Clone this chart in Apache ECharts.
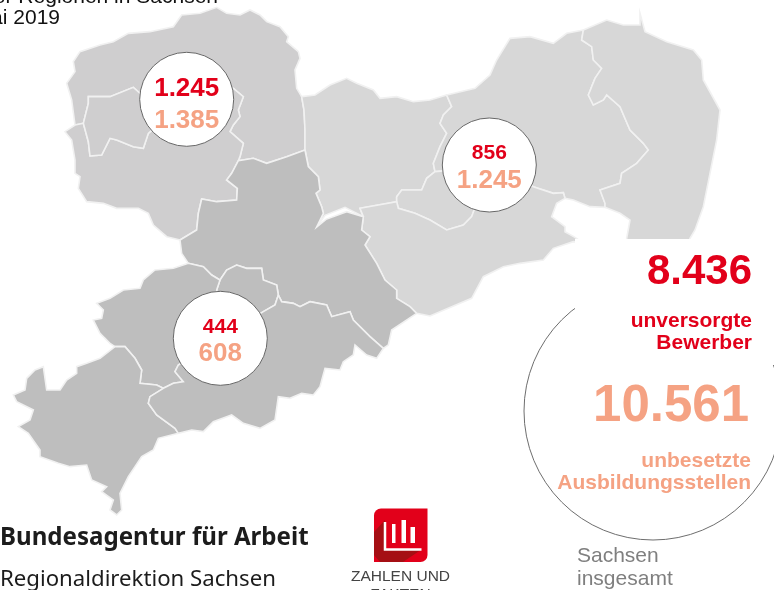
<!DOCTYPE html>
<html><head><meta charset="utf-8">
<style>html,body{margin:0;padding:0;background:#fff;overflow:hidden}#c{width:774px;height:590px}</style>
<script src="https://cdn.jsdelivr.net/npm/echarts@6/dist/echarts.min.js"></script>
</head><body><div id="c"></div>
<script>
// ---- values ----
const districts = ['Leipzig', 'Dresden', 'Chemnitz'];
const bewerber = [1245, 856, 444];
const stellen = [1385, 1245, 608];
const totalBewerber = 8436;
const totalStellen = 10561;
const districtAnchors = [[186.7, 99.3], [489.3, 165], [220.3, 338.3]];

// ---- map geometry ----
const z1 = p => p.map(([x, y]) => [x / 3, y / 3]);
const z2 = p => p.map(([x, y]) => [x / 3 + 290, y / 3]);
const z3 = p => p.map(([x, y]) => [x / 3, y / 3 + 230]);
const rev = p => p.slice().reverse();

const LN = z1([[225,375],[215,300],[200,250],[225,215],[220,185],[240,155],[300,135],[340,125],[385,100],[450,95],[520,80],[545,45],[600,40],[650,22],[680,40],[720,45],[750,30],[780,45],[800,65],[840,80],[865,110],[860,125],[895,155],[900,175],[885,210],[890,265]]);
const LE = z1([[905,290],[912,330],[915,390],[915,450]]);
const LC1 = z1([[860,470],[800,490],[760,475],[715,482]]);
const LC2 = z1([[695,520],[680,540],[712,565],[710,600],[650,605],[605,597],[595,640],[590,690],[540,720]]);
const LS = z1([[500,710],[460,675],[445,640],[415,625],[350,625],[310,610],[260,605],[235,565],[240,530],[225,520],[225,480],[215,420],[195,395]]);
const Rline = z1([[720,470],[730,430],[690,395],[700,375],[720,350],[715,330],[730,290],[700,265],[560,295]]);
const boxTop = z1([[250,370],[265,310],[265,290],[330,290],[400,262],[420,280],[560,295]]);
const boxBottom = z1([[445,400],[430,445],[400,440],[350,420],[330,415],[305,465],[270,468],[265,425],[250,370]]);

const CD1a = z2([[55,500],[85,530],[90,570],[78,580],[95,620],[100,640],[80,681]]);
const NotchUpper = z2([[105,646],[165,622]]);
const NotchLower = z2([[108,658],[170,635]]);
const CDjoin = z2([[220,650]]);
const CD2 = z2([[215,690],[240,710],[225,735],[260,790],[285,840],[320,870]]).concat(z3([[1190,205],[1230,230],[1250,250]]));
const MeTop = z2([[75,285],[120,255],[170,235],[200,250],[250,270],[270,295],[320,290],[370,305],[420,300],[470,285]]);
const MB = z2([[485,320],[460,345],[450,370],[470,400],[450,440],[430,490],[435,515]]);
const MD = z2([[410,535],[395,570],[335,570],[320,590],[320,605]]);
const DS = z2([[325,625],[375,640],[420,660],[470,690],[520,675],[545,650],[600,500]]);
const BaTop = z2([[555,265],[600,225],[620,180],[660,115],[720,110],[790,130],[830,100],[880,90]]);
const BG = z2([[875,120],[905,140],[910,180],[935,205],[915,235],[895,285],[910,315],[940,300],[950,285],[990,320],[1020,390],[1060,430],[1075,450],[1040,490],[995,520],[990,550],[930,570],[945,610],[945,622]]);
const BS = z2([[730,560],[790,580],[820,578],[825,595]]);

const CCtop = z3([[660,150],[680,120],[710,105],[740,115],[785,115],[790,150],[830,165],[835,195]]);
const ES = z3([[845,215],[880,220],[900,230],[930,215],[980,225],[995,260],[1050,245],[1060,270],[1110,320],[1150,355]]);
const ZN = z3([[660,150],[635,135],[610,110],[565,100]]);
const VZ = z3([[375,350],[405,385],[425,420],[420,460],[470,465],[490,475]]);
const ZE = z3([[520,460],[550,455],[525,425],[535,405],[661,325]]);
const VE = z3([[535,610],[525,595],[470,555],[445,520],[450,500],[490,475]]);

const shapes = {
  Nordsachsen: LN.concat(LE, LC1, Rline, rev(boxTop)),
  'Landkreis Leipzig': z1([[715,482]]).concat(LC2, LS, z1([[225,375]]), rev(boxBottom), rev(Rline)),
  'Stadt Leipzig': boxTop.concat(boxBottom),
  Meissen: z2([[35,290]]).concat(MeTop, MB, MD, z2([[210,625]]), CDjoin, rev(NotchUpper), rev(CD1a), rev(LE)),
  Bautzen: z2([[470,285]]).concat(BaTop, BG, z2([[900,620],[850,600],[825,595]]), rev(BS), z2([[600,500]]), rev(MB)),
  'Stadt Dresden': z2([[435,515]]).concat(MD, DS),
  Osterzgebirge: z2([[210,625],[320,605]]).concat(DS, BS, z2([[800,610],[785,650],[825,680],[825,695],[855,712],[880,730],[850,725],[790,745],[760,780],[690,790],[640,800],[580,830],[545,895]]), z3([[1290,258],[1250,250]]), rev(CD2), CDjoin),
  Goerlitz: z2([[880,90],[950,60],[1000,75],[1050,75],[1050,40],[1065,95],[1130,125],[1210,150],[1235,180],[1240,240],[1290,330],[1280,420],[1260,520],[1240,620],[1215,690],[1200,715],[1190,760],[1010,760],[1010,715],[1020,660],[990,640],[945,622]]).concat(rev(BG)),
  Mittelsachsen: z1([[915,450]]).concat(CD1a, NotchLower, CDjoin, CD2, z3([[1175,300],[1165,345],[1150,355]]), rev(ES), z3([[835,195]]), rev(CCtop), ZN.slice(1), z3([[545,70],[540,30]]), rev(LC2), z1([[715,482]]), rev(LC1)),
  'Stadt Chemnitz': CCtop.concat(z3([[825,225],[790,245],[661,325],[650,180]])),
  Zwickau: z3([[565,100],[520,115],[465,120],[430,150],[420,175],[370,180],[330,205],[290,220],[310,240],[305,265],[280,270],[300,310],[330,340],[345,350]]).concat(VZ, ZE, z3([[650,180]]), ZN),
  Vogtland: z3([[345,350],[300,385],[260,400],[230,410],[230,430],[200,450],[180,480],[140,480],[130,410],[105,420],[80,445],[75,480],[40,495],[50,515],[100,540],[90,570],[55,590],[85,610],[120,660],[120,680],[175,700],[210,710],[260,705],[275,750],[320,770],[305,785],[340,810],[330,840],[350,855],[365,840],[360,790],[385,740],[405,710],[425,680],[460,660],[475,625]]).concat(VE, rev(VZ)),
  Erzgebirge: z3([[490,475]]).concat(ZE, z3([[790,245],[825,225],[835,195]]), ES, z3([[1130,385],[1100,375],[1065,345],[1060,375],[1030,395],[1020,420],[975,415],[960,470],[940,495],[905,490],[870,505],[835,500],[825,570],[780,595],[730,580],[695,555],[640,575],[610,605],[575,600]]), VE)
};
const regionGroup = {
  Nordsachsen: 0, 'Landkreis Leipzig': 0, 'Stadt Leipzig': 0,
  Meissen: 1, Bautzen: 1, 'Stadt Dresden': 1, Osterzgebirge: 1, Goerlitz: 1,
  Mittelsachsen: 2, 'Stadt Chemnitz': 2, Zwickau: 2, Vogtland: 2, Erzgebirge: 2
};
const groupColors = ['#cfcecf', '#d7d7d7', '#bebebe'];

const features = Object.keys(shapes).map(name => {
  const ring = shapes[name].concat([shapes[name][0]]);
  return { type: 'Feature', properties: { name }, geometry: { type: 'Polygon', coordinates: [ring] } };
});
echarts.registerMap('sachsen', { type: 'FeatureCollection', features });
let x0 = 1e9, x1 = -1e9, y0 = 1e9, y1 = -1e9;
Object.values(shapes).forEach(r => r.forEach(([x, y]) => { x0 = Math.min(x0, x); x1 = Math.max(x1, x); y0 = Math.min(y0, y); y1 = Math.max(y1, y); }));

// ---- formatting ----
const de = n => String(n).replace(/\B(?=(\d{3})+$)/g, '.');
const RED = '#e2001a', SALMON = '#f5a283', F = '"Liberation Sans", Arial, sans-serif';
const txt = (text, x, y, size, fill, align, weight, z, family) => ({
  type: 'text', z: z || 20, silent: true,
  style: { text, x, y, fill, align: align || 'right', verticalAlign: 'middle',
    font: (weight || 'bold') + ' ' + size + 'px ' + (family || F) }
});

const chart = echarts.init(document.getElementById('c'), null, { renderer: 'canvas' });
chart.setOption({
  animation: false,
  backgroundColor: '#fff',
  geo: {
    map: 'sachsen', silent: true, roam: false, aspectScale: 1,
    projection: { project: p => p, unproject: p => p },
    left: x0, top: y0, width: x1 - x0, height: y1 - y0,
    label: { show: false },
    itemStyle: { areaColor: '#ccc', borderColor: '#f1f1f1', borderWidth: 1.6 },
    regions: Object.keys(regionGroup).map(name => ({ name, itemStyle: { areaColor: groupColors[regionGroup[name]] } }))
  },
  series: [{
    type: 'scatter', coordinateSystem: 'geo', silent: true, z: 5,
    symbol: 'circle', symbolSize: 94,
    itemStyle: { color: '#fff', borderColor: '#666', borderWidth: 1, opacity: 1 },
    data: districts.map((name, i) => ({
      name,
      value: districtAnchors[i].concat(bewerber[i], stellen[i]),
      label: { offset: [0, bewerber[i] >= 1000 ? 6 : 2.5] }
    })),
    label: {
      show: true, position: 'inside',
      formatter: p => {
        const big = p.value[2] >= 1000;
        return '{' + (big ? 'a' : 'as') + '|' + de(p.value[2]) + '}\n{' + (big ? 'b' : 'bs') + '|' + de(p.value[3]) + '}';
      },
      rich: {
        a: { fontFamily: F, fontWeight: 'bold', fontSize: 26, lineHeight: 32, color: RED },
        b: { fontFamily: F, fontWeight: 'bold', fontSize: 26, lineHeight: 32, color: SALMON },
        as: { fontFamily: F, fontWeight: 'bold', fontSize: 21, lineHeight: 26, color: RED },
        bs: { fontFamily: F, fontWeight: 'bold', fontSize: 26, lineHeight: 28, color: SALMON }
      }
    }
  }],
  graphic: { elements: [
    { type: 'circle', z: 10, silent: true, shape: { cx: 653, cy: 411, r: 129 }, style: { fill: '#fff', stroke: '#6e6e6e', lineWidth: 1 } },
    { type: 'rect', z: 11, silent: true, shape: { x: 575, y: 239, width: 199, height: 126 }, style: { fill: '#fff' } },
    txt(de(totalBewerber), 752, 272, 42, RED),
    txt('unversorgte', 752, 321, 21, RED),
    txt('Bewerber', 752, 343, 21, RED),
    txt(de(totalStellen), 749, 407, 51, SALMON),
    txt('unbesetzte', 751, 461, 21, SALMON),
    txt('Ausbildungsstellen', 751, 483, 21, SALMON),
    txt('Sachsen', 577, 556, 21, '#7f7f7f', 'left', 'normal'),
    txt('insgesamt', 577, 579, 21, '#7f7f7f', 'left', 'normal'),
    txt('der Regionen in Sachsen', 218, -3, 21, '#111', 'right', 'normal'),
    txt('Mai 2019', 60, 18, 21, '#111', 'right', 'normal'),
    txt('Bundesagentur für Arbeit', 0, 538, 24.1, '#1c1c1c', 'left', 'bold', 20, '"Noto Sans", sans-serif'),
    txt('Regionaldirektion Sachsen', 0, 580, 22.2, '#1c1c1c', 'left', 'normal', 20, '"Noto Sans", sans-serif'),
    { type: 'rect', z: 12, silent: true, shape: { x: 374, y: 508.5, width: 53.5, height: 53.5, r: [7, 0, 7, 0] }, style: { fill: '#e2001a' } },
    { type: 'polygon', z: 13, silent: true, shape: { points: [[385,520],[374,532],[374,555],[380,562],[403,562],[421.5,549.5],[385,549.5]] }, style: { fill: '#a50f14' } },
    { type: 'polyline', z: 14, silent: true, shape: { points: [[385,522],[385,549.5],[421.5,549.5]] }, style: { stroke: '#fff', lineWidth: 2.5, fill: 'none' } },
    { type: 'rect', z: 14, silent: true, shape: { x: 392, y: 524, width: 3.5, height: 19 }, style: { fill: '#fff' } },
    { type: 'rect', z: 14, silent: true, shape: { x: 401.5, y: 520, width: 4.5, height: 23 }, style: { fill: '#fff' } },
    { type: 'rect', z: 14, silent: true, shape: { x: 410.5, y: 527, width: 4.5, height: 16 }, style: { fill: '#fff' } },
    txt('ZAHLEN UND', 400.5, 577, 15.5, '#444', 'center', 'normal'),
    txt('FAKTEN', 400.5, 595, 15.5, '#444', 'center', 'normal')
  ] }
});
</script></body></html>
